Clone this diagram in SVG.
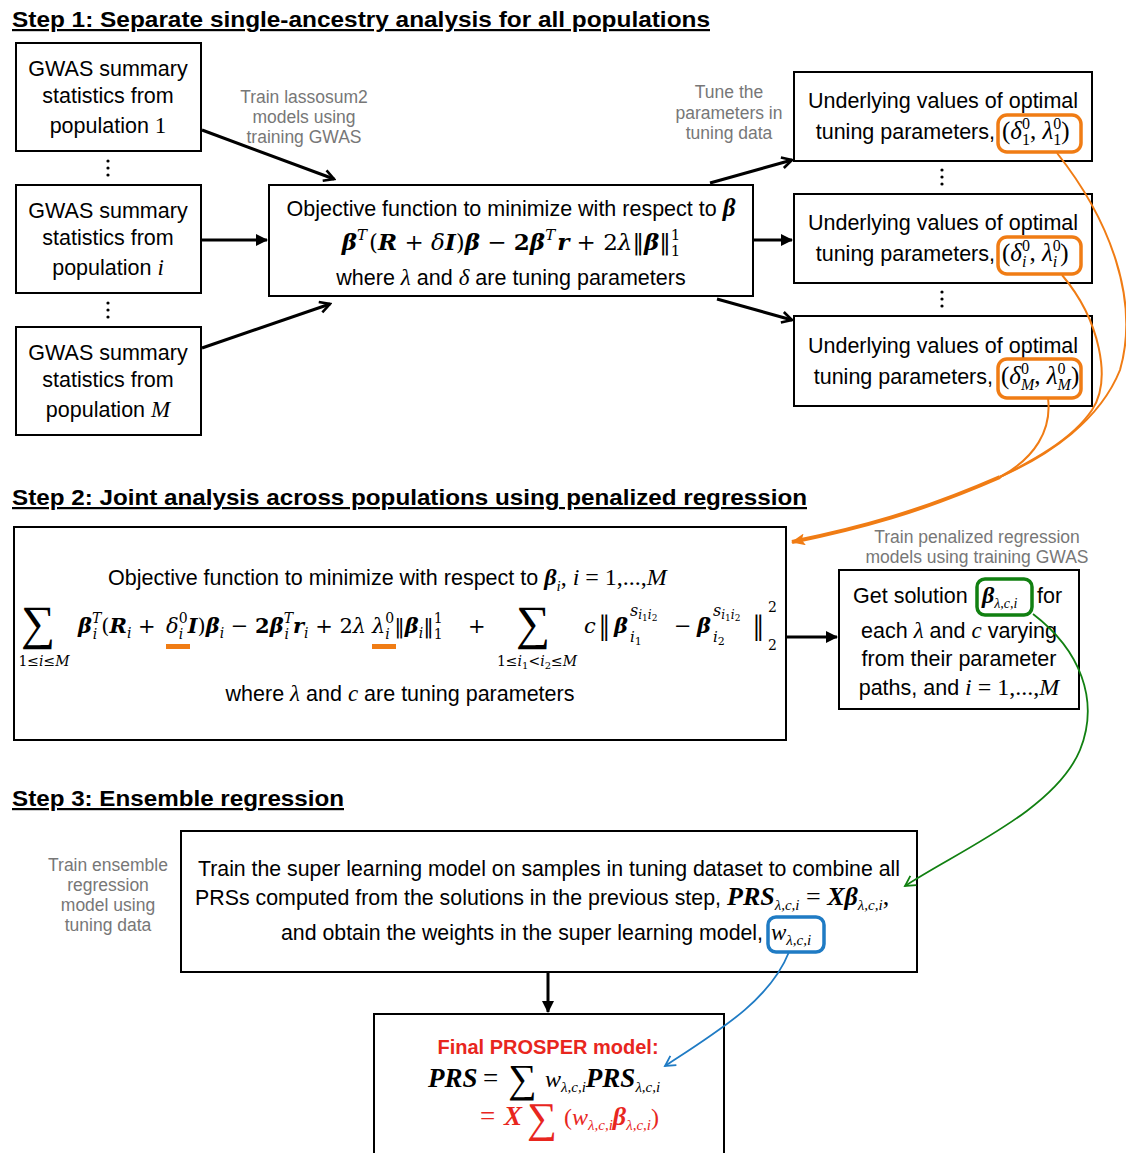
<svg xmlns="http://www.w3.org/2000/svg" width="1126" height="1153" viewBox="0 0 1126 1153">
<style>
.t{font-family:"Liberation Sans",Arial,sans-serif;font-size:21.5px;fill:#000;}
.tc{font-family:"Liberation Sans",Arial,sans-serif;font-size:21.5px;fill:#000;text-anchor:middle;}
.g{font-family:"Liberation Sans",Arial,sans-serif;font-size:17.5px;fill:#777;text-anchor:middle;}
.h{font-family:"Liberation Sans",Arial,sans-serif;font-size:22px;font-weight:bold;text-decoration:underline;}
.m{font-family:"Liberation Serif","Times New Roman",serif;}
.d{font-family:"DejaVu Serif","Liberation Serif",serif;}
.it{font-style:italic;}
.bi{font-style:italic;font-weight:bold;}
.b{font-weight:bold;}
.up{font-style:normal;}
.box{fill:#fff;stroke:#000;stroke-width:2;}
.c{stroke:#000;stroke-width:3;fill:none;}
.dot{fill:#000;}
</style>
<defs>
<marker id="chev" viewBox="0 0 14 14" refX="12" refY="7" markerWidth="14" markerHeight="14" markerUnits="userSpaceOnUse" orient="auto"><path d="M2,1.5 L12,7 L2,12.5" fill="none" stroke="#000" stroke-width="2.6"/></marker>
<marker id="tri" viewBox="0 0 12 12" refX="11" refY="6" markerWidth="12" markerHeight="12" markerUnits="userSpaceOnUse" orient="auto"><path d="M0,0 L12,6 L0,12 Z" fill="#000"/></marker>
<marker id="otri" viewBox="0 0 14 12" refX="13" refY="6" markerWidth="14" markerHeight="12" markerUnits="userSpaceOnUse" orient="auto"><path d="M0,0 L14,6 L0,12 L3,6 Z" fill="#f07c14"/></marker>
<marker id="gchev" viewBox="0 0 14 14" refX="12" refY="7" markerWidth="14" markerHeight="14" markerUnits="userSpaceOnUse" orient="auto"><path d="M2,1.5 L12,7 L2,12.5" fill="none" stroke="#118011" stroke-width="1.8"/></marker>
<marker id="bchev" viewBox="0 0 14 14" refX="12" refY="7" markerWidth="14" markerHeight="14" markerUnits="userSpaceOnUse" orient="auto"><path d="M2,1.5 L12,7 L2,12.5" fill="none" stroke="#1f7bc4" stroke-width="1.8"/></marker>
</defs>
<rect width="1126" height="1153" fill="#fff"/>

<!-- headings -->
<text class="h" x="12" y="27" textLength="698" lengthAdjust="spacingAndGlyphs">Step 1: Separate single-ancestry analysis for all populations</text>
<text class="h" x="12" y="505" textLength="795" lengthAdjust="spacingAndGlyphs">Step 2: Joint analysis across populations using penalized regression</text>
<text class="h" x="12" y="806" textLength="332" lengthAdjust="spacingAndGlyphs">Step 3: Ensemble regression</text>

<!-- gray labels -->
<g id="label-train-lassosum2">
<text class="g" x="304" y="103">Train lassosum2</text>
<text class="g" x="304" y="123">models using</text>
<text class="g" x="304" y="143">training GWAS</text>
</g>
<g id="label-tune">
<text class="g" x="729" y="98">Tune the</text>
<text class="g" x="729" y="119">parameters in</text>
<text class="g" x="729" y="139">tuning data</text>
</g>
<g id="label-train-penalized">
<text class="g" x="977" y="543">Train penalized regression</text>
<text class="g" x="977" y="563">models using training GWAS</text>
</g>
<g id="label-train-ensemble">
<text class="g" x="108" y="871">Train ensemble</text>
<text class="g" x="108" y="891">regression</text>
<text class="g" x="108" y="911">model using</text>
<text class="g" x="108" y="931">tuning data</text>
</g>

<!-- left GWAS boxes -->
<g id="gwas-1">
<rect class="box" x="16" y="43" width="185" height="108"/>
<text class="tc" x="108" y="76">GWAS summary</text>
<text class="tc" x="108" y="103">statistics from</text>
<text class="tc" x="108" y="133">population <tspan class="m" font-size="23">1</tspan></text>
</g>
<g id="gwas-i">
<rect class="box" x="16" y="185" width="185" height="108"/>
<text class="tc" x="108" y="218">GWAS summary</text>
<text class="tc" x="108" y="245">statistics from</text>
<text class="tc" x="108" y="275">population <tspan class="m it" font-size="23">i</tspan></text>
</g>
<g id="gwas-M">
<rect class="box" x="16" y="327" width="185" height="108"/>
<text class="tc" x="108" y="360">GWAS summary</text>
<text class="tc" x="108" y="387">statistics from</text>
<text class="tc" x="108" y="417">population <tspan class="m it" font-size="23">M</tspan></text>
</g>
<g id="dots-left">
<circle class="dot" cx="108" cy="161" r="1.6"/><circle class="dot" cx="108" cy="168" r="1.6"/><circle class="dot" cx="108" cy="175" r="1.6"/>
<circle class="dot" cx="108" cy="303" r="1.6"/><circle class="dot" cx="108" cy="310" r="1.6"/><circle class="dot" cx="108" cy="317" r="1.6"/>
</g>

<!-- center objective box -->
<g id="objective-1">
<rect class="box" x="269" y="185" width="484" height="111"/>
<text class="tc" x="511" y="216">Objective function to minimize with respect to <tspan class="m bi" font-size="25">β</tspan></text>
<text class="d" x="511" y="250" text-anchor="middle" font-size="23"><tspan class="bi">β</tspan><tspan class="it" font-size="15" dy="-10">T</tspan><tspan dy="10" dx="2">(</tspan><tspan class="bi">R</tspan> + <tspan class="it">δ</tspan><tspan class="bi">I</tspan>)<tspan class="bi">β</tspan> − <tspan class="b">2</tspan><tspan class="bi">β</tspan><tspan class="it" font-size="15" dy="-10">T</tspan><tspan class="bi" dy="10" dx="2">r</tspan> + 2<tspan class="it">λ</tspan>‖<tspan class="bi">β</tspan>‖<tspan font-size="15" dy="-10">1</tspan><tspan font-size="15" dx="-9.5" dy="16">1</tspan></text>
<text class="tc" x="511" y="285">where  <tspan class="m it" font-size="23">λ</tspan> and <tspan class="m it" font-size="23">δ</tspan> are tuning parameters</text>
</g>

<!-- right tuning boxes -->
<g id="tuning-1">
<rect class="box" x="794" y="72" width="298" height="89"/>
<text class="tc" x="943" y="108">Underlying values of optimal</text>
<text class="t" x="995" y="139" text-anchor="end">tuning parameters,</text>
<text class="m" x="1002" y="139" font-size="25">(<tspan class="it">δ</tspan><tspan font-size="16" dy="-10">0</tspan><tspan font-size="16" dx="-8" dy="16">1</tspan><tspan dy="-6">, </tspan><tspan class="it">λ</tspan><tspan font-size="16" dy="-10">0</tspan><tspan font-size="16" dx="-8" dy="16">1</tspan><tspan dy="-6">)</tspan></text>
<rect x="998" y="115" width="83" height="37" rx="9" fill="none" stroke="#f07c14" stroke-width="3.5"/>
</g>
<g id="tuning-i">
<rect class="box" x="794" y="194" width="298" height="89"/>
<text class="tc" x="943" y="230">Underlying values of optimal</text>
<text class="t" x="995" y="261" text-anchor="end">tuning parameters,</text>
<text class="m" x="1002" y="261" font-size="25">(<tspan class="it">δ</tspan><tspan font-size="16" dy="-10">0</tspan><tspan class="it" font-size="16" dx="-8" dy="16">i</tspan><tspan dy="-6" dx="3">, </tspan><tspan class="it">λ</tspan><tspan font-size="16" dy="-10">0</tspan><tspan class="it" font-size="16" dx="-8" dy="16">i</tspan><tspan dy="-6" dx="3">)</tspan></text>
<rect x="998" y="237" width="83" height="37" rx="9" fill="none" stroke="#f07c14" stroke-width="3.5"/>
</g>
<g id="tuning-M">
<rect class="box" x="794" y="316" width="298" height="90"/>
<text class="tc" x="943" y="353">Underlying values of optimal</text>
<text class="t" x="993" y="384" text-anchor="end">tuning parameters,</text>
<text class="m" x="1001" y="384" font-size="25">(<tspan class="it">δ</tspan><tspan font-size="16" dy="-10">0</tspan><tspan class="it" font-size="16" dx="-8" dy="16">M</tspan><tspan dy="-6">, </tspan><tspan class="it">λ</tspan><tspan font-size="16" dy="-10">0</tspan><tspan class="it" font-size="16" dx="-8" dy="16">M</tspan><tspan dy="-6">)</tspan></text>
<rect x="998" y="359" width="83" height="39" rx="9" fill="none" stroke="#f07c14" stroke-width="3.5"/>
</g>
<g id="dots-right">
<circle class="dot" cx="942" cy="170" r="1.6"/><circle class="dot" cx="942" cy="177" r="1.6"/><circle class="dot" cx="942" cy="184" r="1.6"/>
<circle class="dot" cx="942" cy="292" r="1.6"/><circle class="dot" cx="942" cy="299" r="1.6"/><circle class="dot" cx="942" cy="306" r="1.6"/>
</g>

<!-- step 2 box -->
<g id="objective-2">
<rect class="box" x="14" y="527" width="772" height="213"/>
<text class="t" x="108" y="585">Objective function to minimize with respect to <tspan class="m" font-size="24"><tspan class="bi">β</tspan><tspan class="it" font-size="15" dy="6">i</tspan><tspan dy="-6">, </tspan><tspan class="it">i</tspan> = 1,...,<tspan class="it">M</tspan></tspan></text>
<text class="m" x="21" y="639" font-size="48">∑</text>
<text class="d" x="44" y="666" font-size="14" text-anchor="middle">1≤<tspan class="it">i</tspan>≤<tspan class="it">M</tspan></text>
<text class="d" x="78" y="633" font-size="21"><tspan class="bi">β</tspan><tspan class="it" font-size="14" dy="-10">T</tspan><tspan class="it" font-size="14" dx="-8.5" dy="16">i</tspan><tspan dy="-6" dx="4">(</tspan><tspan class="bi">R</tspan><tspan class="it" font-size="14" dy="5">i</tspan><tspan dy="-5"> +</tspan></text>
<text class="d" x="166" y="633" font-size="21"><tspan class="it">δ</tspan><tspan font-size="14" dy="-10">0</tspan><tspan class="it" font-size="14" dx="-8.9" dy="16">i</tspan><tspan class="bi" dy="-6" dx="4.5">I</tspan>)<tspan class="bi">β</tspan><tspan class="it" font-size="14" dy="5">i</tspan><tspan dy="-5"> − </tspan><tspan class="b">2</tspan><tspan class="bi">β</tspan><tspan class="it" font-size="14" dy="-10">T</tspan><tspan class="it" font-size="14" dx="-8.5" dy="16">i</tspan><tspan class="bi" dy="-6" dx="4">r</tspan><tspan class="it" font-size="14" dy="5">i</tspan><tspan dy="-5"> + 2</tspan><tspan class="it">λ</tspan></text>
<text class="d" x="372" y="633" font-size="21"><tspan class="it">λ</tspan><tspan font-size="14" dy="-10">0</tspan><tspan class="it" font-size="14" dx="-8.9" dy="16">i</tspan><tspan dy="-6" dx="4.5">‖</tspan><tspan class="bi">β</tspan><tspan class="it" font-size="14" dy="5">i</tspan><tspan dy="-5">‖</tspan><tspan font-size="14" dy="-10">1</tspan><tspan font-size="14" dx="-8.9" dy="16">1</tspan></text>
<text class="d" x="468" y="633" font-size="21">+</text>
<text class="m" x="516" y="639" font-size="48">∑</text>
<text class="d" x="537" y="666" font-size="14" text-anchor="middle">1≤<tspan class="it">i</tspan><tspan font-size="10" dy="3">1</tspan><tspan dy="-3">&lt;</tspan><tspan class="it">i</tspan><tspan font-size="10" dy="3">2</tspan><tspan dy="-3">≤</tspan><tspan class="it">M</tspan></text>
<text class="d it" x="584" y="633" font-size="21">c</text>
<text class="m" x="599" y="641" font-size="38">‖</text>
<text class="d bi" x="614" y="633" font-size="21">β</text>
<text class="d it" x="630" y="616" font-size="16">s<tspan font-size="12" dy="3">i</tspan><tspan class="up" font-size="9" dy="2">1</tspan><tspan font-size="12" dy="-2">i</tspan><tspan class="up" font-size="9" dy="2">2</tspan></text>
<text class="d it" x="630" y="642" font-size="15">i<tspan class="up" font-size="11" dy="3">1</tspan></text>
<text class="d" x="674" y="633" font-size="21">−</text>
<text class="d bi" x="697" y="633" font-size="21">β</text>
<text class="d it" x="713" y="616" font-size="16">s<tspan font-size="12" dy="3">i</tspan><tspan class="up" font-size="9" dy="2">1</tspan><tspan font-size="12" dy="-2">i</tspan><tspan class="up" font-size="9" dy="2">2</tspan></text>
<text class="d it" x="713" y="642" font-size="15">i<tspan class="up" font-size="11" dy="3">2</tspan></text>
<text class="m" x="753" y="641" font-size="38">‖</text>
<text class="d" x="768" y="612" font-size="14">2</text>
<text class="d" x="768" y="650" font-size="14">2</text>
<text class="tc" x="400" y="701">where  <tspan class="m it" font-size="23">λ</tspan> and <tspan class="m it" font-size="23">c</tspan> are tuning parameters</text>
<rect x="166" y="644" width="24" height="5" fill="#f07c14"/>
<rect x="372" y="644" width="24" height="5" fill="#f07c14"/>
</g>

<!-- step 2 right box -->
<g id="solution">
<rect class="box" x="839" y="570" width="240" height="139"/>
<text class="t" x="853" y="603">Get solution</text>
<text class="m" x="982" y="603" font-size="24"><tspan class="bi">β</tspan><tspan class="it" font-size="14" dy="5">λ,c,i</tspan></text>
<rect x="977" y="579" width="55" height="36" rx="8" fill="none" stroke="#118011" stroke-width="3.5"/>
<text class="t" x="1037" y="603">for</text>
<text class="tc" x="959" y="638">each <tspan class="m it" font-size="23">λ</tspan>  and <tspan class="m it" font-size="23">c</tspan> varying</text>
<text class="tc" x="959" y="666">from their parameter</text>
<text class="tc" x="959" y="695">paths, and <tspan class="m" font-size="24"><tspan class="it">i</tspan> = 1,...,<tspan class="it">M</tspan></tspan></text>
</g>

<!-- step 3 box -->
<g id="ensemble">
<rect class="box" x="181" y="831" width="736" height="141"/>
<text class="t" x="198" y="876" textLength="702" lengthAdjust="spacingAndGlyphs">Train the super learning model on samples in tuning dataset to combine all</text>
<text class="t" x="195" y="905" textLength="526" lengthAdjust="spacingAndGlyphs">PRSs computed from the solutions in the previous step,</text>
<text class="m" x="727" y="905" font-size="26"><tspan class="bi">PRS</tspan><tspan class="it" font-size="15" dy="5">λ,c,i</tspan><tspan dy="-5"> = </tspan><tspan class="bi">Xβ</tspan><tspan class="it" font-size="15" dy="5">λ,c,i</tspan><tspan dy="-5">,</tspan></text>
<text class="t" x="281" y="940" textLength="482" lengthAdjust="spacingAndGlyphs">and obtain the weights in the super learning model,</text>
<text class="m it" x="771" y="940" font-size="23">w<tspan font-size="15" dy="5">λ,c,i</tspan></text>
<rect x="768" y="917" width="56" height="35" rx="8" fill="none" stroke="#1f7bc4" stroke-width="3.5"/>
</g>

<!-- final box -->
<g id="final">
<rect class="box" x="374" y="1014" width="350" height="150"/>
<text x="548" y="1054" text-anchor="middle" font-family="Liberation Sans, Arial, sans-serif" font-size="20" font-weight="bold" fill="#e8261e">Final PROSPER model:</text>
<text class="m" y="1087" font-size="27"><tspan x="428" class="bi">PRS</tspan><tspan x="483">=</tspan><tspan x="508" font-size="40" dy="5">∑</tspan><tspan x="545" class="it" font-size="24" dy="-5">w</tspan><tspan class="it" font-size="15" dy="5">λ,c,i</tspan><tspan class="bi" dy="-5">PRS</tspan><tspan class="it" font-size="15" dy="5">λ,c,i</tspan></text>
<text class="m" y="1125" font-size="27" fill="#e8261e"><tspan x="480">=</tspan><tspan x="504" class="bi">X</tspan><tspan x="527" font-size="42" dy="7">∑</tspan><tspan x="564" font-size="24" dy="-7">(</tspan><tspan class="it" font-size="24">w</tspan><tspan class="it" font-size="15" dy="5">λ,c,i</tspan><tspan class="bi" dy="-5" font-size="26">β</tspan><tspan class="it" font-size="15" dy="5">λ,c,i</tspan><tspan font-size="24" dy="-5">)</tspan></text>
</g>

<!-- connectors -->
<g id="connectors">
<line class="c" x1="202" y1="130" x2="334" y2="179" marker-end="url(#chev)"/>
<line class="c" x1="202" y1="240" x2="267" y2="240" marker-end="url(#tri)"/>
<line class="c" x1="202" y1="348" x2="330" y2="304" marker-end="url(#chev)"/>
<line class="c" x1="710" y1="183" x2="792" y2="160" marker-end="url(#chev)"/>
<line class="c" x1="754" y1="240" x2="792" y2="240" marker-end="url(#tri)"/>
<line class="c" x1="717" y1="299" x2="792" y2="320" marker-end="url(#chev)"/>
<line class="c" x1="787" y1="637" x2="837" y2="637" marker-end="url(#tri)"/>
<line class="c" x1="548" y1="973" x2="548" y2="1012" marker-end="url(#tri)"/>
<path d="M1057,153 C1110,220 1140,300 1120,370 C1100,420 1050,455 1000,477" fill="none" stroke="#f07c14" stroke-width="2"/>
<path d="M1062,275 C1100,320 1112,380 1092,410 C1072,440 1030,462 1000,477" fill="none" stroke="#f07c14" stroke-width="2"/>
<path d="M1048,398 C1052,430 1035,458 1000,477" fill="none" stroke="#f07c14" stroke-width="2"/>
<path d="M1000,477 C920,512 860,528 792,542" fill="none" stroke="#f07c14" stroke-width="4" marker-end="url(#otri)"/>
<path d="M1033,614 C1080,650 1100,700 1080,750 C1055,810 960,850 905,886" fill="none" stroke="#118011" stroke-width="1.8" marker-end="url(#gchev)"/>
<path d="M789,952 C770,1000 720,1030 665,1066" fill="none" stroke="#1f7bc4" stroke-width="1.8" marker-end="url(#bchev)"/>
</g>
</svg>
